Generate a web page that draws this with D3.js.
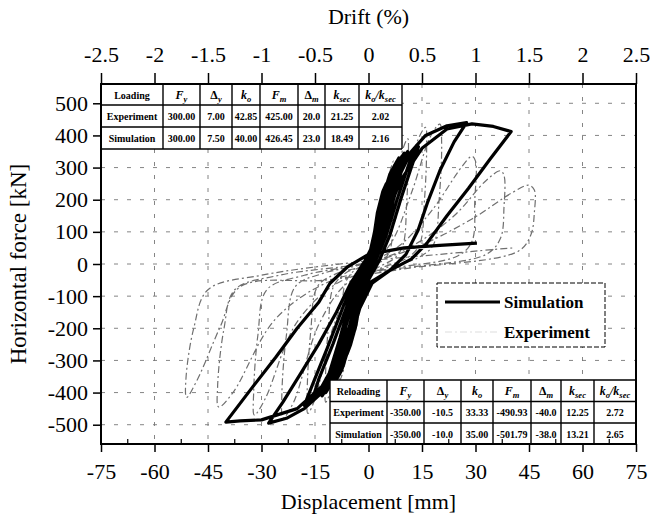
<!DOCTYPE html>
<html>
<head>
<meta charset="utf-8">
<script src="https://cdn.jsdelivr.net/npm/d3@7"></script>
<style>
  body { margin: 0; background: #fff; }
  text { font-family: "Liberation Serif", "Times New Roman", serif; }
</style>
</head>
<body>
<div id="plot"></div>
<script>
// ---- data ----
const dispTicks = [-75, -60, -45, -30, -15, 0, 15, 30, 45, 60, 75];
const dispLabels = ["-75", "-60", "-45", "-30", "-15", "0", "15", "30", "45", "60", "75"];
const driftTicks = [-2.5, -2, -1.5, -1, -0.5, 0, 0.5, 1, 1.5, 2, 2.5];
const driftLabels = ["-2.5", "-2", "-1.5", "-1", "-0.5", "0", "0.5", "1", "1.5", "2", "2.5"];
const forceTicks = [500, 400, 300, 200, 100, 0, -100, -200, -300, -400, -500];
const forceLabels = ["500", "400", "300", "200", "100", "0", "-100", "-200", "-300", "-400", "-500"];

// simulation (thick black) - [displacement mm, force kN]
const simulation = [
  [0, 0],
  [1.5, 90], [3, 150], [2, 115], [0.5, 40], [-1, -30], [-2.2, -110], [-3, -160], [-2, -120], [-0.5, -50], [0.5, 10],
  [2.5, 160], [4, 225], [5, 250], [3.8, 205], [1.8, 90], [0, 10], [-1.5, -60], [-3.5, -190], [-5, -250], [-6, -280],
  [-4.5, -230], [-2.5, -130], [-0.5, -30], [1, 30],
  [3.5, 190], [6, 280], [8, 320], [6.5, 270], [4, 160], [2, 60], [0, -20], [-2.5, -110], [-5.5, -260], [-7.5, -330],
  [-9, -360], [-7.5, -300], [-5, -190], [-2.5, -80], [0, 10],
  [3, 170], [6.5, 290], [8.5, 330], [7, 280], [4.5, 170], [2.5, 60], [0.5, -20], [-2, -100], [-5.5, -250], [-8, -340],
  [-9.5, -370], [-8, -310], [-5.5, -200], [-3, -90], [-0.5, 0],
  [2.5, 100], [5, 220], [8, 310], [10, 345], [8.5, 290], [6, 190], [3.5, 80], [1, 0], [-2, -90], [-5, -220],
  [-8.5, -340], [-12, -400], [-10, -330], [-7, -220], [-4, -100], [-1.5, -20],
  [3, 120], [6, 240], [9, 320], [11, 350], [9.5, 300], [7, 200], [4.5, 90], [2, 10], [-1.5, -70], [-5, -210],
  [-9, -340], [-13, -410], [-11, -340], [-8, -230], [-5, -110], [-2, -30],
  [2, 60], [5, 190], [9, 310], [13, 360], [11, 300], [8, 200], [5, 90], [2, 10], [-1, -60], [-5, -200],
  [-10, -340], [-16, -430], [-14, -360], [-10, -250], [-6, -130], [-3, -40],
  [2.5, 70], [6, 210], [10, 320], [14, 365], [12, 300], [9, 200], [6, 90], [3, 10], [-0.5, -60], [-5, -210],
  [-11, -360], [-18, -440], [-15.5, -370], [-11.5, -260], [-7, -130], [-3.5, -40],
  [0, 20], [4, 140], [8, 260], [12, 350], [16, 400], [22, 430], [27.5, 440], [24, 380], [20, 290], [16.5, 190],
  [13.9, 105], [10.5, 30], [6, -20], [1, -60], [-3, -150], [-7, -300], [-12, -390], [-18, -450], [-23, -480],
  [-28, -495], [-24, -430], [-19, -340], [-14, -250], [-9, -150], [-5, -60],
  [-1, 10], [4, 120], [9, 260], [15, 360], [22, 420], [29, 436], [35, 428], [40, 412], [34, 325], [28, 235],
  [22, 150], [16.4, 65], [12, 15], [6, -20], [0, -60], [-4, -150], [-8, -280], [-13, -380], [-20, -450],
  [-30, -485], [-36, -488], [-40, -492], [-33, -390], [-26, -290], [-20, -200], [-14, -120], [-10.8, -60], [-6, -10],
  [0, 30], [10, 50], [20, 58], [30.4, 65]
];

// experiment (thin grey, dash-dot)
const experiment = [
  [0, 0], [1.4, 60], [2.6, 130], [3.5, 185], [4, 200], [4, 175], [3.7, 100], [3.1, 40], [2, 10], [0, -20],
  [-1.4, -60], [-2.6, -140], [-3.5, -200], [-4, -220], [-4, -190], [-3.7, -110], [-3, -45], [-1.5, -10],
  [0, 10], [2.5, 80], [4.5, 190], [6.2, 295], [7, 320], [7.1, 280], [6.8, 150], [6.2, 50], [4.5, 15], [1, -10],
  [-2, -50], [-4.5, -160], [-6.8, -320], [-8, -360], [-8, -310], [-7.5, -170], [-6.5, -60], [-4, -20],
  [0, 5], [3.5, 80], [7, 230], [9.7, 360], [11, 390], [11.2, 340], [10.7, 190], [9.7, 60], [7.5, 20], [2, -15],
  [-3, -60], [-7, -190], [-10.5, -390], [-12, -430], [-12.1, -370], [-11.3, -200], [-9.8, -70], [-6, -25],
  [0, 0], [5, 70], [10, 230], [14, 390], [16, 425], [16.3, 370], [15.7, 200], [14.3, 60], [11, 20], [3, -15],
  [-4, -60], [-10, -200], [-15, -420], [-17, -465], [-17.2, -400], [-16.2, -210], [-14.3, -70], [-9, -30],
  [0, 0], [6, 60], [12, 220], [17.5, 400], [20, 435], [20.5, 380], [19.8, 200], [18.2, 60], [14, 20], [4, -15],
  [-6, -60], [-14, -190], [-21, -430], [-24, -480], [-24.3, -410], [-23, -220], [-20.5, -70], [-13, -30],
  [0, 5], [9, 60], [18, 170], [26, 300], [29, 335], [30, 320], [29.8, 200], [29, 70], [25, 25], [6, -15],
  [-8, -55], [-20, -180], [-29, -420], [-32, -470], [-32.2, -400], [-31, -220], [-28.5, -80], [-18, -35],
  [0, 5], [12, 55], [24, 150], [33, 260], [37, 290], [38, 275], [38, 180], [37, 80], [33, 30], [8, -15],
  [-10, -50], [-26, -170], [-38, -400], [-42, -445], [-42.3, -380], [-40.5, -200], [-37.5, -80], [-25, -35],
  [0, 5], [14, 55], [29, 140], [40, 220], [45, 245], [46.5, 230], [46.5, 160], [45.5, 90], [42, 40], [10, -15],
  [-12, -50], [-36, -71], [-41.6, -196], [-48, -360], [-51, -415], [-51.2, -360], [-49, -200], [-45, -80],
  [-30, -35], [0, 10], [20, 30], [35, 45], [40.6, 50]
];

// tables
const tableHeader = ["F_y", "Δ_y", "k_o", "F_m", "Δ_m", "k_sec", "k_o/k_sec"];
const loadingRows = [
  ["Loading"],
  ["Experiment", "300.00", "7.00", "42.85", "425.00", "20.0", "21.25", "2.02"],
  ["Simulation", "300.00", "7.50", "40.00", "426.45", "23.0", "18.49", "2.16"]
];
const reloadingRows = [
  ["Reloading"],
  ["Experiment", "-350.00", "-10.5", "33.33", "-490.93", "-40.0", "12.25", "2.72"],
  ["Simulation", "-350.00", "-10.0", "35.00", "-501.79", "-38.0", "13.21", "2.65"]
];
const seriesNames = ["Simulation", "Experiment"];

// ---- layout ----
const width = 650, height = 521;
const plotLeft = 101, plotRight = 636, plotTop = 84, plotBottom = 444;
const serif = "'Liberation Serif', 'Times New Roman', serif";

const svg = d3.select("#plot").append("svg")
  .attr("width", width)
  .attr("height", height)
  .attr("font-family", serif);

const x = d3.scaleLinear().domain([-75, 75]).range([plotLeft, plotRight]);
const xTop = d3.scaleLinear().domain([-2.5, 2.5]).range([plotLeft, plotRight]);
const y = d3.scaleLinear().domain([-560, 560]).range([plotBottom, plotTop]);

// grid
const grid = svg.append("g")
  .attr("stroke", "#777")
  .attr("stroke-width", 0.9)
  .attr("stroke-dasharray", "4,9");
grid.selectAll("line.v")
  .data(dispTicks.slice(1, -1))
  .enter().append("line")
  .attr("x1", d => x(d)).attr("x2", d => x(d))
  .attr("y1", plotTop).attr("y2", plotBottom);
grid.selectAll("line.h")
  .data(forceTicks)
  .enter().append("line")
  .attr("x1", plotLeft).attr("x2", plotRight)
  .attr("y1", d => y(d)).attr("y2", d => y(d));

// curves
svg.append("path")
  .datum(experiment)
  .attr("d", d3.line().x(d => x(d[0])).y(d => y(d[1])).curve(d3.curveCatmullRom.alpha(0.5)))
  .attr("fill", "none")
  .attr("stroke", "#6f6f6f")
  .attr("stroke-width", 1.2)
  .attr("stroke-dasharray", "7,3,2,3");

svg.append("path")
  .datum(simulation)
  .attr("d", d3.line().x(d => x(d[0])).y(d => y(d[1])))
  .attr("fill", "none")
  .attr("stroke", "#000")
  .attr("stroke-width", 3.2)
  .attr("stroke-linejoin", "round");

// header symbol like "k_o/k_sec" -> italic letter + subscript
function symbol(textSel, label) {
  let shift = 0;
  label.split("/").forEach((part, i) => {
    if (i > 0) {
      textSel.append("tspan").attr("font-style", "italic").attr("font-size", 12)
        .attr("dy", -shift).text("/");
      shift = 0;
    }
    const [main, sub] = part.split("_");
    textSel.append("tspan")
      .attr("font-style", main === "Δ" ? "normal" : "italic")
      .attr("font-size", 12)
      .attr("dy", -shift)
      .text(main);
    shift = 0;
    if (sub) {
      textSel.append("tspan").attr("dy", 3).attr("font-size", 8.5)
        .attr("font-style", "italic").text(sub);
      shift = 3;
    }
  });
}

function drawTable(rows, cols, rowY) {
  const g = svg.append("g");
  g.append("rect")
    .attr("x", cols[0]).attr("y", rowY[0])
    .attr("width", cols[cols.length - 1] - cols[0])
    .attr("height", rowY[rowY.length - 1] - rowY[0])
    .attr("fill", "#fff");
  g.selectAll("line.c").data(cols).enter().append("line")
    .attr("x1", d => d).attr("x2", d => d)
    .attr("y1", rowY[0]).attr("y2", rowY[rowY.length - 1])
    .attr("stroke", "#000").attr("stroke-width", 1.4);
  g.selectAll("line.r").data(rowY).enter().append("line")
    .attr("x1", cols[0]).attr("x2", cols[cols.length - 1])
    .attr("y1", d => d).attr("y2", d => d)
    .attr("stroke", "#000").attr("stroke-width", 1.4);
  rows.forEach((row, r) => {
    const cells = r === 0 ? row.concat(tableHeader) : row;
    cells.forEach((cell, c) => {
      const t = g.append("text")
        .attr("x", (cols[c] + cols[c + 1]) / 2)
        .attr("y", (rowY[r] + rowY[r + 1]) / 2 + 4)
        .attr("text-anchor", "middle")
        .attr("font-size", 10)
        .attr("font-weight", "bold");
      if (r === 0 && c > 0) symbol(t, cell);
      else t.text(cell);
    });
  });
}

drawTable(loadingRows,
  [plotLeft, 163, 200, 232, 260, 298, 325, 359, 402],
  [plotTop, 105, 127, 149]);
drawTable(reloadingRows,
  [330, 387, 424, 461, 493, 531, 561, 594, plotRight],
  [380, 401.5, 423, plotBottom]);

// legend
const legend = svg.append("g");
legend.append("rect")
  .attr("x", 437).attr("y", 283).attr("width", 168).attr("height", 64)
  .attr("fill", "#fff")
  .attr("stroke", "#000").attr("stroke-width", 1)
  .attr("stroke-dasharray", "5,2");
legend.selectAll("line")
  .data(seriesNames)
  .enter().append("line")
  .attr("x1", 445).attr("x2", 500)
  .attr("y1", (d, i) => 302 + i * 30).attr("y2", (d, i) => 302 + i * 30)
  .attr("stroke", (d, i) => i === 0 ? "#000" : "#d4d4d4")
  .attr("stroke-width", (d, i) => i === 0 ? 3 : 0.8)
  .attr("stroke-dasharray", (d, i) => i === 0 ? null : "7,3,2,3");
legend.selectAll("text")
  .data(seriesNames)
  .enter().append("text")
  .attr("x", 504)
  .attr("y", (d, i) => 308 + i * 30)
  .attr("font-size", 17)
  .attr("font-weight", "bold")
  .text(d => d);

// frame
svg.append("rect")
  .attr("x", plotLeft).attr("y", plotTop)
  .attr("width", plotRight - plotLeft).attr("height", plotBottom - plotTop)
  .attr("fill", "none")
  .attr("stroke", "#000")
  .attr("stroke-width", 2);

// axes
const axisBottom = svg.append("g")
  .attr("transform", `translate(0,${plotBottom})`)
  .call(d3.axisBottom(x).tickValues(dispTicks).tickSize(8).tickSizeOuter(0)
    .tickFormat((d, i) => dispLabels[i]));

const axisTop = svg.append("g")
  .attr("transform", `translate(0,${plotTop})`)
  .call(d3.axisTop(xTop).tickValues(driftTicks).tickSize(11).tickSizeOuter(0)
    .tickFormat((d, i) => driftLabels[i]));

const axisLeft = svg.append("g")
  .attr("transform", `translate(${plotLeft},0)`)
  .call(d3.axisLeft(y).tickValues(forceTicks).tickSize(8).tickSizeOuter(0)
    .tickFormat((d, i) => forceLabels[i]));

// minor ticks on bottom, pointing inward
svg.append("g").selectAll("line")
  .data(dispTicks.slice(0, -1))
  .enter().append("line")
  .attr("x1", d => x(d + 7.5)).attr("x2", d => x(d + 7.5))
  .attr("y1", plotBottom).attr("y2", plotBottom - 5)
  .attr("stroke", "#000").attr("stroke-width", 1.2);

[axisBottom, axisTop, axisLeft].forEach(a => {
  a.attr("font-family", serif).attr("font-size", 22);
  a.select(".domain").remove();
  a.selectAll(".tick line").attr("stroke", "#000").attr("stroke-width", 1.5);
  a.selectAll(".tick text").attr("fill", "#000");
});
axisBottom.selectAll(".tick text").attr("dy", "1em").attr("y", 13);
axisTop.selectAll(".tick text").attr("y", -22);
axisLeft.selectAll(".tick text").attr("x", -13);

// titles
svg.append("text")
  .attr("x", (plotLeft + plotRight) / 2).attr("y", 24)
  .attr("text-anchor", "middle")
  .attr("font-size", 22)
  .text("Drift (%)");

svg.append("text")
  .attr("x", (plotLeft + plotRight) / 2).attr("y", 509)
  .attr("text-anchor", "middle")
  .attr("font-size", 22)
  .text("Displacement [mm]");

svg.append("text")
  .attr("transform", `translate(26,${y(0)}) rotate(-90)`)
  .attr("text-anchor", "middle")
  .attr("font-size", 23)
  .text("Horizontal force [kN]");
</script>
</body>
</html>
